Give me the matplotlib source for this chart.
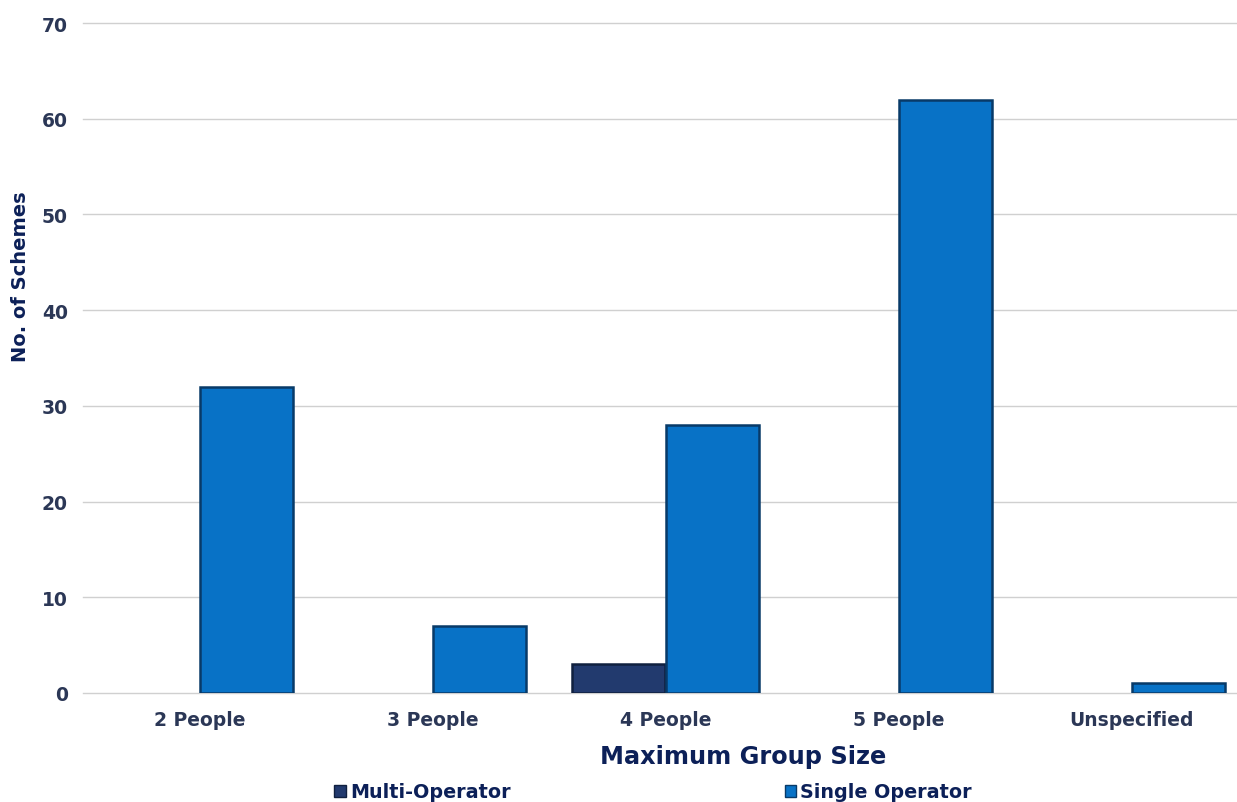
import matplotlib
matplotlib.use("Agg")
import matplotlib.pyplot as plt
import numpy as np
from matplotlib.patches import Patch

categories = ["2 People", "3 People", "4 People", "5 People", "Unspecified"]
multi_operator = [0, 0, 3, 0, 0]
single_operator = [32, 7, 28, 62, 1]
series_names = ["Multi-Operator", "Single Operator"]
yticks = [0, 10, 20, 30, 40, 50, 60, 70]

plt.rcParams['font.family'] = ['DejaVu Sans']

W, H = 1237, 803
fig = plt.figure(figsize=(W / 100, H / 100), dpi=100)
ax = fig.add_axes([83 / W, 1 - 694 / H, (1248 - 83) / W, (694 - 24) / H])

x = np.arange(len(categories))
bw = 0.4
c_multi = "#223A6E"
c_single = "#0872C6"
lw_m = [1.8 if v > 0 else 0 for v in multi_operator]
lw_s = [1.8 if v > 0 else 0 for v in single_operator]
ax.bar(x - bw / 2, multi_operator, width=bw, color=c_multi, edgecolor="#10203F",
       linewidth=lw_m, zorder=3)
ax.bar(x + bw / 2, single_operator, width=bw, color=c_single, edgecolor="#083A68",
       linewidth=lw_s, zorder=3)

ax.set_xlim(-0.5, len(categories) - 0.5)
ax.set_ylim(0, 70)
ax.set_yticks(yticks)
ax.set_xticks(x)
ax.set_xticklabels(categories)
ax.grid(axis="y", color="#D0D0D0", linewidth=1, zorder=0)
for gl in ax.get_ygridlines():
    gl.set_clip_on(False)
ax.set_axisbelow(True)
for s in ax.spines.values():
    s.set_visible(False)
ax.tick_params(length=0)
tick_color = "#2B3756"
for lab in ax.get_xticklabels():
    lab.set_fontsize(13.5)
    lab.set_fontweight("bold")
    lab.set_color(tick_color)
for lab in ax.get_yticklabels():
    lab.set_fontsize(13.5)
    lab.set_fontweight("bold")
    lab.set_color(tick_color)
ax.tick_params(axis="x", pad=12)
ax.tick_params(axis="y", pad=11)

title_color = "#0C2058"
fig.text(743 / W, 1 - 757 / H, "Maximum Group Size", ha="center", va="center",
         fontsize=17.3, fontweight="bold", color=title_color)
fig.text(21 / W, 1 - 277 / H, "No. of Schemes", ha="center", va="center",
         rotation=90, fontsize=14, fontweight="bold", color=title_color)

handles = [Patch(facecolor=c_multi, edgecolor="#10203F"),
           Patch(facecolor=c_single, edgecolor="#083A68")]
leg = fig.legend(handles, series_names, loc="center", ncol=2,
                 bbox_to_anchor=(653 / W, 1 - 793 / H), frameon=False,
                 handlelength=0.6, handleheight=0.6, handletextpad=0.2,
                 columnspacing=14.3, borderpad=0,
                 prop={"size": 13.8, "weight": "bold"})
for t in leg.get_texts():
    t.set_color(title_color)

fig.savefig("out.png", dpi=100)
